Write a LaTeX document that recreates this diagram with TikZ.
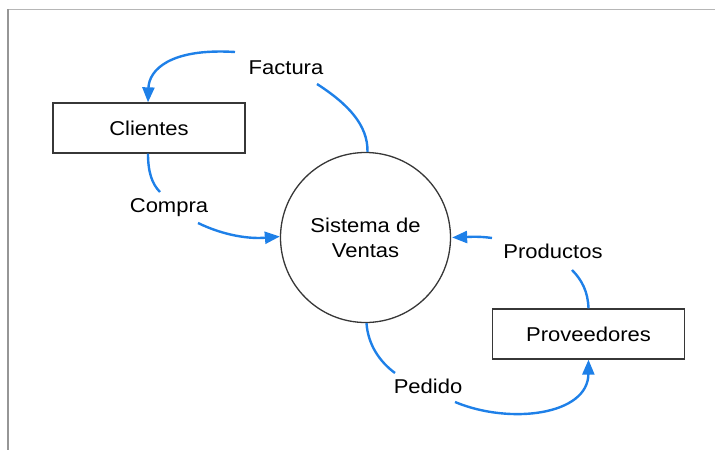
\documentclass[tikz,border=0pt]{standalone}
\usepackage{fontspec}
\setmainfont{Liberation Sans}[FakeStretch=1.1]
\usetikzlibrary{arrows.meta}
\definecolor{flowblue}{RGB}{30,128,232}
\definecolor{boxgray}{RGB}{55,55,55}
\definecolor{framegray}{RGB}{150,150,150}
\tikzset{
  entity/.style={draw=boxgray,line width=1.3pt,minimum width=192pt,minimum height=50pt,inner sep=0pt,font=\fontsize{20}{24}\selectfont},
  process/.style={draw=boxgray,line width=1.3pt,circle,minimum size=170pt,inner sep=0pt,align=center,font=\fontsize{20}{25}\selectfont},
  flowlabel/.style={inner sep=2pt,font=\fontsize{20}{24}\selectfont},
  flow/.style={draw=flowblue,line width=2.4pt},
  flowarrow/.style={flow,-{Triangle[length=15pt,width=12pt]}}
}
\begin{document}
\begin{tikzpicture}[x=1pt,y=-1pt]
\useasboundingbox (0,0) rectangle (715,450);
\draw[framegray!70,line width=1pt] (8,9) -- (715,9);
\draw[framegray,line width=2pt] (8,9) -- (8,450);

\node[entity] (clientes) at (149,128) {Clientes};
\node[entity] (prov) at (588.5,334) {Proveedores};
\node[process] (sys) at (365.5,237.5) {Sistema de\\Ventas};

\node[flowlabel] (factura) at (286,68) {Factura};
\node[flowlabel] (compra) at (169,208) {Compra};
\node[flowlabel] (productos) at (553,251) {Productos};
\node[flowlabel] (pedido) at (428,386) {Pedido};

\coordinate (fa1) at (317,84);
\coordinate (fa2) at (235,52);
\coordinate (co1) at (160,192);
\coordinate (co2) at (198,223);
\coordinate (pr1) at (572,270);
\coordinate (pr2) at (492,238);
\coordinate (pe1) at (395,373);
\coordinate (pe2) at (455,402);

% Factura
\draw[flow] ([xshift=2pt]sys.north) .. controls (368,125) and (348,104) .. (fa1);
\draw[flowarrow] (fa2) .. controls (170,48) and (149,70) .. ([xshift=-1pt]clientes.north);
% Compra
\draw[flow] ([xshift=-1pt]clientes.south) .. controls (148,172) and (152,184) .. (co1);
\draw[flowarrow] (co2) .. controls (225,236) and (250,239) .. ([yshift=1pt]sys.west);
% Productos
\draw[flow] (prov.north) .. controls (588,292) and (582,280) .. (pr1);
\draw[flowarrow] (pr2) .. controls (478,236) and (468,237) .. ([xshift=1pt]sys.east);
% Pedido
\draw[flow] ([xshift=1pt]sys.south) .. controls (368,345) and (380,362) .. (pe1);
\draw[flowarrow] (pe2) .. controls (510,425) and (588,415) .. (prov.south);
\end{tikzpicture}
\end{document}
